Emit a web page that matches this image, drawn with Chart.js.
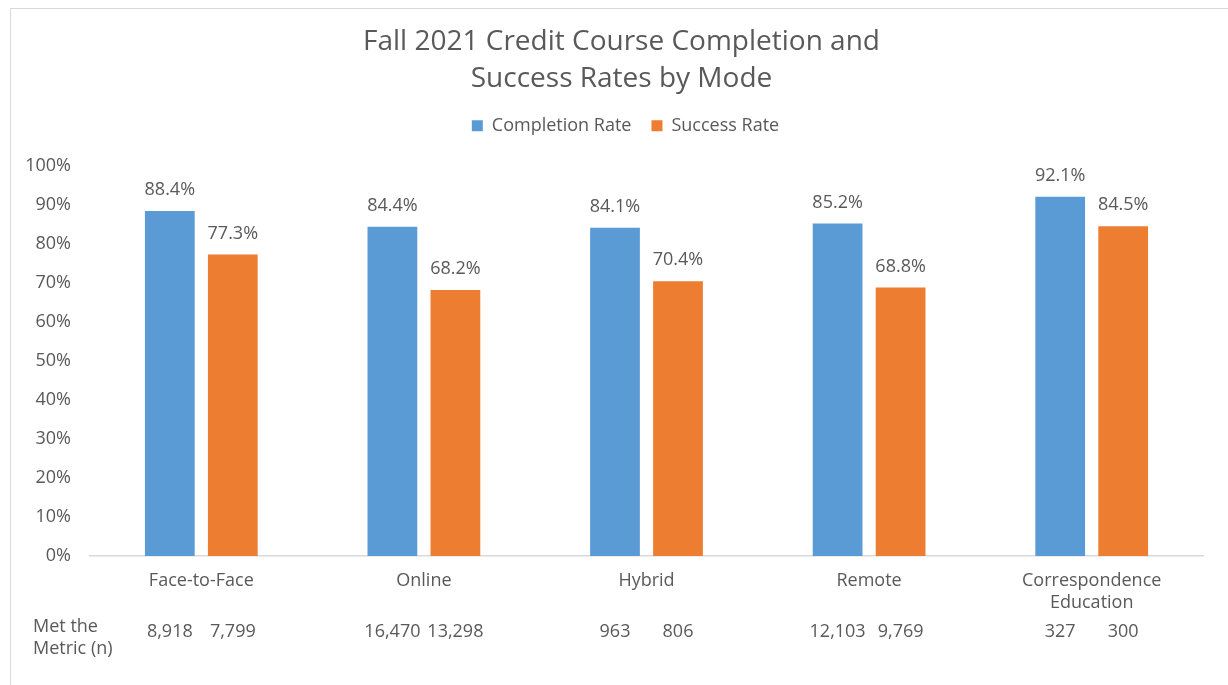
<!DOCTYPE html>
<html>
<head>
<meta charset="utf-8">
<script src="https://cdn.jsdelivr.net/npm/chart.js@4"></script>
<style>
    html, body { margin: 0; padding: 0; background: #ffffff; }
    #wrap { position: relative; width: 1228px; height: 685px; overflow: hidden; }
    #frame { position: absolute; left: 10px; top: 8px; width: 1300px; height: 700px;
             border-left: 1px solid #d9d9d9; border-top: 1px solid #d9d9d9; }
    #chart { position: absolute; left: 0; top: 0; }
</style>
</head>
<body>
<div id="wrap">
    <div id="frame"></div>
    <canvas id="chart" width="1228" height="685"></canvas>
</div>
<script>
var categories = ["Face-to-Face", "Online", "Hybrid", "Remote", ["Correspondence", "Education"]];
var completionRate = [88.4, 84.4, 84.1, 85.2, 92.1];
var successRate = [77.3, 68.2, 70.4, 68.8, 84.5];
var completionCount = [8918, 16470, 963, 12103, 327];
var successCount = [7799, 13298, 806, 9769, 300];
var yTicks = [0, 10, 20, 30, 40, 50, 60, 70, 80, 90, 100];

var textColor = "#595959";
var fontFamily = "'Open Sans', sans-serif";

// extra room under the legend, and title/legend centred on the whole frame
var headerTweaks = {
    "id": "headerTweaks",
    "beforeInit": function (chart) {
        var fit = chart.legend.fit;
        chart.legend.fit = function () {
            fit.bind(chart.legend)();
            this.height += 21;
        };
    },
    "afterLayout": function (chart) {
        chart.titleBlock.left += 20;
        chart.titleBlock.right += 20;
        chart.legend.left += 24;
        chart.legend.right += 24;
    }
};

var labelsPlugin = {
    "id": "barLabels",
    "afterDatasetsDraw": function (chart) {
        var ctx = chart.ctx;
        var counts = [completionCount, successCount];
        ctx.save();
        ctx.fillStyle = textColor;
        ctx.font = "18px " + fontFamily;
        ctx.textAlign = "center";
        chart.data.datasets.forEach(function (ds, i) {
            var meta = chart.getDatasetMeta(i);
            meta.data.forEach(function (bar, j) {
                ctx.textBaseline = "bottom";
                ctx.fillText(ds.data[j].toFixed(1) + "%", bar.x, bar.y - 12);
                ctx.textBaseline = "middle";
                ctx.fillText(counts[i][j].toLocaleString("en-US"), bar.x, chart.chartArea.bottom + 76);
            });
        });
        ctx.textAlign = "left";
        ctx.textBaseline = "middle";
        ctx.fillText("Met the", 33, chart.chartArea.bottom + 71);
        ctx.fillText("Metric (n)", 33, chart.chartArea.bottom + 93);
        ctx.restore();
    }
};

new Chart(document.getElementById("chart").getContext("2d"), {
    "type": "bar",
    "data": {
        "labels": categories,
        "datasets": [
            {
                "label": "Completion Rate",
                "data": completionRate,
                "backgroundColor": "#5B9BD5",
                "categoryPercentage": 0.566,
                "barPercentage": 0.79
            },
            {
                "label": "Success Rate",
                "data": successRate,
                "backgroundColor": "#ED7D31",
                "categoryPercentage": 0.566,
                "barPercentage": 0.79
            }
        ]
    },
    "options": {
        "responsive": false,
        "animation": false,
        "layout": {
            "padding": { "left": 0, "right": 25, "top": 0, "bottom": 0 }
        },
        "plugins": {
            "title": {
                "display": true,
                "text": ["Fall 2021 Credit Course Completion and", "Success Rates by Mode"],
                "color": textColor,
                "font": { "family": fontFamily, "size": 28, "weight": "normal", "lineHeight": 1.3 },
                "padding": { "top": 24, "bottom": 0 }
            },
            "legend": {
                "position": "top",
                "labels": {
                    "color": textColor,
                    "font": { "family": fontFamily, "size": 18 },
                    "boxWidth": 11,
                    "boxHeight": 11,
                    "padding": 20
                }
            },
            "tooltip": { "enabled": false }
        },
        "scales": {
            "x": {
                "grid": { "display": false, "drawTicks": false },
                "border": { "color": "#d9d9d9", "width": 1.5 },
                "ticks": {
                    "color": textColor,
                    "font": { "family": fontFamily, "size": 18 },
                    "padding": 14,
                    "maxRotation": 0
                },
                "afterFit": function (scale) { scale.height = 129; }
            },
            "y": {
                "min": 0,
                "max": 100,
                "afterBuildTicks": function (scale) {
                    scale.ticks = yTicks.map(function (v) { return { "value": v }; });
                },
                "grid": { "display": false, "drawTicks": false },
                "border": { "display": false },
                "ticks": {
                    "color": textColor,
                    "font": { "family": fontFamily, "size": 18 },
                    "padding": 19,
                    "callback": function (v) { return v + "%"; }
                },
                "afterFit": function (scale) { scale.width = 90; }
            }
        }
    },
    "plugins": [headerTweaks, labelsPlugin]
});
</script>
</body>
</html>
